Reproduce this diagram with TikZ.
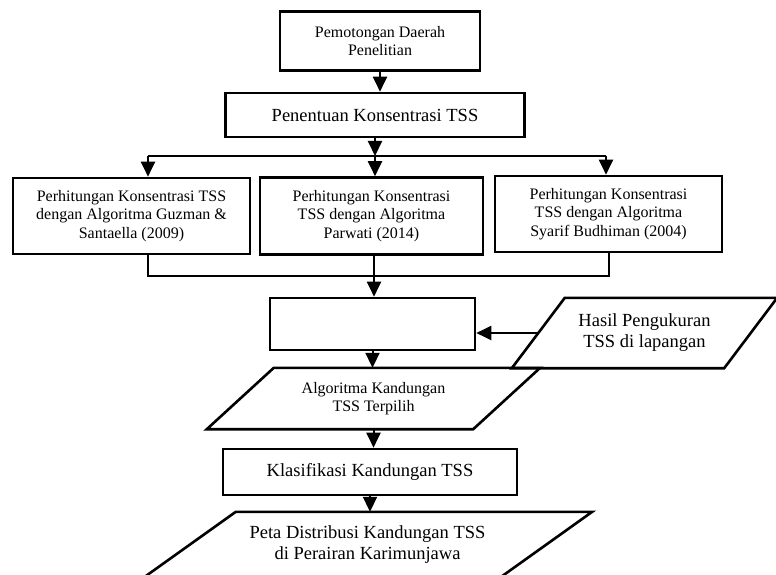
\documentclass[tikz,border=0pt]{standalone}
\usepackage{fontspec}
\setmainfont{Liberation Serif}
\usetikzlibrary{arrows.meta}

\tikzset{
  kotak/.style={draw, line width=2.6pt, align=center, inner sep=2pt},
  jajar/.style={align=center, inner sep=0pt},
  bingkai/.style={line width=2.6pt},
  teks/.style={font=\fontsize{16}{18.5}\selectfont},
  teksbesar/.style={font=\fontsize{18.5}{21}\selectfont},
  panah/.style={-{Triangle[width=14pt,length=15pt]}, line width=2pt},
  garis/.style={line width=1.2pt},
}

% jajaran genjang di sekeliling node: #1 nama node, #2 geser miring
\newcommand{\jajargenjang}[2]{%
  \draw[bingkai] ([xshift=#2/2]#1.north west) -- ([xshift=#2/2]#1.north east)
    -- ([xshift=-#2/2]#1.south east) -- ([xshift=-#2/2]#1.south west) -- cycle;}

\begin{document}
\begin{tikzpicture}[x=1pt,y=-1pt]
    \useasboundingbox (0,0) rectangle (776,575);

    % Tahap awal
    \node[kotak, teks, minimum width=200pt, minimum height=59pt] (potong) at (380,41) {Pemotongan Daerah\\Penelitian};
    \node[kotak, teksbesar, minimum width=299pt, minimum height=44pt] (tentukan) at (375,115) {Penentuan Konsentrasi TSS};

    % Tiga algoritma
    \node[kotak, teks, minimum width=237pt, minimum height=76pt] (guzman) at (131.5,216) {Perhitungan Konsentrasi TSS\\dengan Algoritma Guzman \&\\Santaella (2009)};
    \node[kotak, teks, minimum width=223pt, minimum height=77pt] (parwati) at (371.5,216) {Perhitungan Konsentrasi\\TSS dengan Algoritma\\Parwati (2014)};
    \node[kotak, teks, minimum width=227pt, minimum height=76pt] (syarif) at (608.5,214) {Perhitungan Konsentrasi\\TSS dengan Algoritma\\Syarif Budhiman (2004)};

    % Uji dan hasil
    \node[kotak, minimum width=205pt, minimum height=52pt] (kosong) at (372.5,324) {};
    \node[jajar, teksbesar, minimum width=212pt, minimum height=70pt] (hasil) at (644.5,333) {Hasil Pengukuran\\TSS di lapangan};
    \jajargenjang{hasil}{53}
    \node[jajar, teks, minimum width=266pt, minimum height=61pt] (algo) at (373.5,398.5) {Algoritma Kandungan\\TSS Terpilih};
    \jajargenjang{algo}{67}
    \node[kotak, teksbesar, minimum width=294pt, minimum height=46pt] (klasifikasi) at (370,472) {Klasifikasi Kandungan TSS};
    \node[jajar, teksbesar, minimum width=356pt, minimum height=66pt] (peta) at (367.5,545) {Peta Distribusi Kandungan TSS\\di Perairan Karimunjawa};
    \jajargenjang{peta}{93}

    % Titik cabang
    \coordinate (cabang) at (375,156);
    \coordinate (cabangkiri) at (148,156);
    \coordinate (cabangkanan) at (606,156);
    \coordinate (gabung) at (374,276);
    \coordinate (gabungkiri) at (148,276);
    \coordinate (gabungkanan) at (609,276);

    \draw[panah] (potong.south) -- (potong.south |- tentukan.north);
    \draw[panah] (tentukan.south) -- (cabang);
    \draw[garis] (cabangkiri) -- (cabangkanan);
    \draw[panah] (cabangkiri) -- (cabangkiri |- guzman.north);
    \draw[panah] (cabang) -- (cabang |- parwati.north);
    \draw[panah] (cabangkanan) -- (cabangkanan |- syarif.north);

    \draw[garis] (gabungkiri |- guzman.south) -- (gabungkiri) -- (gabungkanan) -- (gabungkanan |- syarif.south);
    \draw[garis] (gabung |- parwati.south) -- (gabung);
    \draw[panah] (gabung) -- (gabung |- kosong.north);
    \draw[panah] (hasil.west) -- (hasil.west -| kosong.east);
    \draw[panah] (kosong.south) -- (kosong.south |- algo.north);
    \draw[panah] (algo.south) -- (algo.south |- klasifikasi.north);
    \draw[panah] (klasifikasi.south) -- (klasifikasi.south |- peta.north);
\end{tikzpicture}
\end{document}
